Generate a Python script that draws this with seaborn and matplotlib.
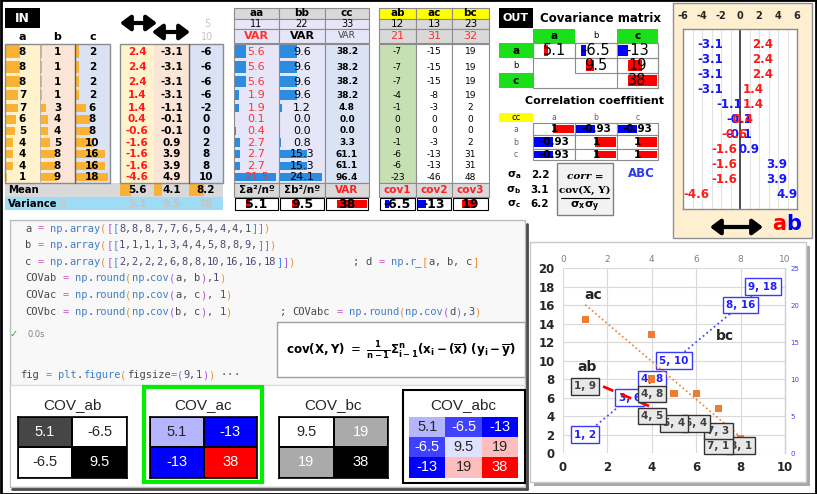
import re
import numpy as np
import pandas as pd
import matplotlib
matplotlib.use("Agg")
import matplotlib.pyplot as plt
from matplotlib.patches import Rectangle
import seaborn as sns

# input columns
a = np.array([8, 8, 8, 7, 7, 6, 5, 4, 4, 4, 1])
b = np.array([1, 1, 1, 1, 3, 4, 4, 5, 8, 8, 9])
c = np.array([2, 2, 2, 2, 6, 8, 8, 10, 16, 16, 18])
names = ["a", "b", "c"]
sq_names = ["aa", "bb", "cc"]
sq_codes = ["11", "22", "33"]
sq_foot = ["Σa²/nº", "Σb²/nº", "VAR"]
pair_names = ["ab", "ac", "bc"]
pair_codes = ["12", "13", "23"]
pair_codes_r = ["21", "31", "32"]
pair_foot = ["cov1", "cov2", "cov3"]
pairs = [(0, 1), (0, 2), (1, 2)]

# what the sheet computes from them
data = np.vstack([a, b, c])
mean = data.mean(axis=1)
dev = data - mean[:, None]
sq = dev ** 2
prod = np.array([dev[i] * dev[j] for i, j in pairs])
cov = np.round(np.cov(data), 1)
corr = np.corrcoef(data)
sd = np.sqrt(np.diag(np.cov(data)))

W, H = 817, 494
sns.set_theme(style="white", context="paper")
plt.rcParams["font.family"] = ["DejaVu Sans"]
plt.rcParams["axes.unicode_minus"] = False
fig = plt.figure(figsize=(W / 100, H / 100), dpi=100)
cv = fig.add_axes([0, 0, 1, 1])
cv.set_xlim(0, W)
cv.set_ylim(H, 0)
cv.axis("off")

EDGE = "#8c8c8c"
GREY = "#d9d9d9"
LAV = "#e6e6f8"
CREAM, PEACH, LBLUE = "#fff2cc", "#fbe5d6", "#dae3f3"
ORANGE = "#f9b233"
BARBLUE = "#2b8ce0"
GREEN = "#19e019"


def pax(x0, y0, x1, y1):
    return fig.add_axes([x0 / W, 1 - y1 / H, (x1 - x0) / W, (y1 - y0) / H])


def box(x0, y0, x1, y1, fc="none", ec="none", lw=0.8, z=1):
    cv.add_patch(Rectangle((x0, y0), x1 - x0, y1 - y0, facecolor=fc,
                           edgecolor=ec, lw=lw, zorder=z))


def txt(x, y, s, size=7.5, color="black", weight="bold", ha="center", **kw):
    cv.text(x, y, s, fontsize=size, color=color, fontweight=weight,
            ha=ha, va="center", zorder=6, **kw)


def num(v, f):
    s = format(v, f)
    return s.lstrip("-") if float(s) == 0 else s


def sbar(x0, y0, x1, y1, v, lo, hi):
    # excel style data bar with an axis
    w = x1 - x0 - 2
    ax0 = x0 + 1 + w * (-lo) / (hi - lo)
    L = w * abs(v) / (hi - lo)
    if v >= 0:
        box(ax0, y0 + 2, ax0 + L, y1 - 2, fc="red", z=2)
    else:
        box(ax0 - L, y0 + 2, ax0, y1 - 2, fc="blue", z=2)


def arrow(x0, x1, y):
    cv.annotate("", xy=(x1, y), xytext=(x0, y),
                arrowprops=dict(arrowstyle="<|-|>,head_length=0.6,head_width=0.45",
                                lw=3, color="black", shrinkA=0, shrinkB=0,
                                mutation_scale=10), zorder=6)


ry = [44, 60, 74.5, 89, 102, 113.5, 125, 136.7, 148.4, 160, 171.7, 183]
rc = [(ry[i] + ry[i + 1]) / 2 for i in range(11)]
fills = [CREAM, PEACH, LBLUE]

# ---------------- IN block
box(5, 8, 40, 28, fc="black")
txt(22.5, 18, "IN", color="white", size=9)
in_x = [5, 40, 75, 110]
dv_x = [120, 154, 189, 223]
for k in range(3):
    box(in_x[k], 44, in_x[k + 1], 183, fc=fills[k])
    box(dv_x[k], 44, dv_x[k + 1], 183, fc=fills[k])
    cx, dx = (in_x[k] + in_x[k + 1]) / 2, (dv_x[k] + dv_x[k + 1]) / 2
    txt(cx, 37, names[k], size=8)
    for i in range(11):
        box(in_x[k] + 0.5, ry[i] + 1.5, in_x[k] + 0.5 + data[k, i] / 18 * 33,
            ry[i + 1] - 1.5, fc=ORANGE, z=2)
        txt(cx, rc[i], str(data[k, i]))
        txt(dx, rc[i], num(dev[k, i], ".1f" if k < 2 else ".0f"),
            color="#ff1a1a" if k == 0 else "black")
    # mean row bar
    box(dv_x[k] + 0.5, 184, dv_x[k] + 0.5 + mean[k] / 8.2 * 15, 196, fc=ORANGE, z=2)
box(5, 44, 110, 183, ec=EDGE, lw=1, z=3)
box(120, 44, 223, 183, ec=EDGE, lw=1, z=3)
cv.plot([75, 75], [44, 183], color="#606060", lw=1, zorder=3)
cv.plot([189, 189], [44, 183], color="#606060", lw=1, zorder=3)
cv.plot([40, 40], [44, 183], color="#b0b0b0", lw=0.6, zorder=3)
box(5, 183, 223, 197, fc=GREY)
box(5, 197, 223, 210, fc="#9ddcf4")
txt(8, 190, "Mean", ha="left", size=7.3)
txt(8, 203.5, "Variance", ha="left", size=7.3)
txt(62, 203.5, "S", color="#c8c8c8", size=7.3)
for k in range(3):
    dx = (dv_x[k] + dv_x[k + 1]) / 2
    txt(dx, 190, f"{mean[k]:.1f}", size=7.5)
    txt(dx, 203.5, f"{cov[k, k]:.2g}", color="#c4c4c4", size=7.5)
arrow(120, 157, 23)
arrow(152, 190, 32)
txt(207, 24, "5", color="#c4c4c4", weight="normal", size=7)
txt(207, 37, "10", color="#c4c4c4", weight="normal", size=7)

lo, hi = cov.min(), cov.max()

# ---------------- squares block
sq_x = [234, 279, 325, 369]
for k in range(3):
    x0, x1 = sq_x[k], sq_x[k + 1]
    cx = (x0 + x1) / 2
    box(x0, 8, x1, 19, fc=GREY, ec=EDGE)
    txt(cx, 13.5, sq_names[k], size=7.5)
    box(x0, 19, x1, 29, fc=LAV, ec=EDGE)
    txt(cx, 24, sq_codes[k], weight="normal", size=7)
    box(x0, 29, x1, 43, fc=LAV, ec=EDGE)
    txt(cx, 36, "VAR", color=["#ff3030", "black", "#404040"][k],
        size=[8, 8, 6.5][k], weight=["bold", "bold", "normal"][k])
    box(x0, 44, x1, 183, fc=[LAV, LAV, LBLUE][k], ec=EDGE)
    for i in range(11):
        if k < 2:
            box(x0 + 1, ry[i] + 1.5, x0 + 1 + sq[k, i] / sq[k].max() * (x1 - x0 - 4),
                ry[i + 1] - 1.5, fc=BARBLUE, z=2)
            txt(cx, rc[i], f"{sq[k, i]:.1f}", color="#ff3333" if k == 0 else "black",
                weight="normal", size=8)
        else:
            txt(cx, rc[i], f"{sq[k, i]:.1f}", size=6.5)
    box(x0, 183, x1, 197, fc=GREY, ec=EDGE)
    txt(cx, 190, sq_foot[k], color="#ff2020" if k == 2 else "black", size=7.5)
    box(x0 + 1, 198, x1 - 1, 210, fc="white", ec="black")
    sbar(x0 + 1, 198, x1 - 1, 210, cov[k, k], lo, hi)
    txt(cx, 204, f"{cov[k, k]:.2g}", size=9)

# ---------------- products block
pr_x = [379, 416, 452, 489]
for k, (i, j) in enumerate(pairs):
    x0, x1 = pr_x[k], pr_x[k + 1]
    cx = (x0 + x1) / 2
    box(x0, 8, x1, 19, fc="#ffff00", ec=EDGE)
    txt(cx, 13.5, pair_names[k], size=7.5)
    box(x0, 19, x1, 29, fc=GREY, ec=EDGE)
    txt(cx, 24, pair_codes[k], weight="normal", size=7.5)
    box(x0, 29, x1, 43, fc=GREY, ec=EDGE)
    txt(cx, 36, pair_codes_r[k], weight="normal", size=8, color="#ff3030")
    box(x0, 44, x1, 183, fc="#c6e0b4" if k == 0 else "white", ec=EDGE)
    for r in range(11):
        txt(cx, rc[r], num(prod[k, r], ".0f"), weight="normal", size=6.5)
    box(x0, 183, x1, 197, fc=GREY, ec=EDGE)
    txt(cx, 190, pair_foot[k], color="#ff2020", size=7.5)
    box(x0 + 1, 198, x1 - 1, 210, fc="white", ec="black")
    sbar(x0 + 1, 198, x1 - 1, 210, cov[i, j], lo, hi)
    txt(cx, 204, f"{cov[i, j]:.2g}", size=9)

# ---------------- OUT block
box(499, 8, 533, 28, fc="black")
txt(516, 18, "OUT", color="white", size=8)
txt(540, 18, "Covariance matrix", ha="left", size=8.5)
mx = [533, 575, 617, 658]
my = [43, 58, 73, 88]
for k in range(3):
    cx = (mx[k] + mx[k + 1]) / 2
    cy = (my[k] + my[k + 1]) / 2
    if k != 1:
        box(mx[k], 29, mx[k + 1], 43, fc=GREEN)
        box(499, my[k], 533, my[k + 1], fc=GREEN)
    txt(cx, 36, names[k], size=7.5 if k != 1 else 6, weight="bold" if k != 1 else "normal")
    txt(516, cy, names[k], size=7.5 if k != 1 else 6, weight="bold" if k != 1 else "normal")
box(533, 43, 658, 88, fc="white", ec=EDGE)
for i in range(3):
    for j in range(i, 3):
        box(mx[j], my[i], mx[j + 1], my[i + 1], ec=EDGE)
        sbar(mx[j], my[i], mx[j + 1], my[i + 1], cov[i, j], lo, hi)
        txt((mx[j] + mx[j + 1]) / 2, (my[i] + my[i + 1]) / 2, f"{cov[i, j]:.2g}",
            weight="normal", size=10.5)

txt(595, 101, "Correlation coeffitient", size=8)
box(499, 113, 533, 122, fc="#ffff00")
txt(516, 117.5, "cc", weight="normal", size=6)
cyy = [123, 135, 149, 160]
for k in range(3):
    txt((mx[k] + mx[k + 1]) / 2, 117.5, names[k], weight="normal", size=5.5, color="#606060")
    txt(516, (cyy[k] + cyy[k + 1]) / 2, names[k], weight="normal", size=5.5, color="#606060")
for i in range(3):
    for j in range(3):
        box(mx[j], cyy[i], mx[j + 1], cyy[i + 1], fc="white", ec=EDGE)
        sbar(mx[j], cyy[i], mx[j + 1], cyy[i + 1], corr[i, j], corr.min(), corr.max())
        txt((mx[j] + mx[j + 1]) / 2, (cyy[i] + cyy[i + 1]) / 2, f"{corr[i, j]:.2g}", size=7.5)

for k, yy in enumerate([175, 190, 204]):
    txt(514, yy, rf"$\mathbf{{\sigma_{names[k]}}}$", size=7.5)
    txt(540, yy, f"{sd[k]:.1f}", size=7.5)
box(557, 163, 613, 215, fc="#f2f2f2", ec="#808080", lw=1)
txt(585, 176, "corr =", family="DejaVu Serif", style="italic", size=7.5)
txt(585, 190, "cov(X, Y)", family="DejaVu Serif", size=7.5)
cv.plot([561, 609], [198, 198], color="black", lw=0.8, zorder=6)
txt(585, 207, r"$\mathbf{\sigma_x\sigma_y}$", size=8)
txt(641, 173, "ABC", color="#2b3be8", size=8.5)

# ---------------- deviation panel (right)
box(673, 3, 812, 238, fc="#fdefcf", ec="#909090", lw=1)
axd = pax(683, 29, 797, 209)
axd.set_xlim(-6, 6)
axd.set_ylim(11, -1)
axd.set_xticks(range(-6, 7, 2))
axd.set_xticks(range(-6, 7), minor=True)
axd.xaxis.tick_top()
axd.tick_params(axis="x", which="both", length=0, pad=6, labelsize=7)
for t in axd.get_xticklabels():
    t.set_fontweight("bold")
axd.set_yticks([])
axd.grid(axis="x", which="both", color="#e3e3e3", lw=0.8)
axd.axvline(0, color="#404040", lw=1.3)
for sp in axd.spines.values():
    sp.set_color("#8c8c8c")
for i in range(11):
    axd.text(dev[1, i], i, f"{dev[1, i]:.1f}", color="#1515ff", ha="center",
             va="center", fontsize=8.5, fontweight="bold")
    axd.text(dev[0, i], i, f"{dev[0, i]:.1f}", color="#ff1a1a", ha="center",
             va="center", fontsize=8.5, fontweight="bold")
arrow(710, 763, 227)
txt(786, 224, "a", color="red", size=15, ha="right")
txt(786.5, 224, "b", color="blue", size=15, ha="left")

# ---------------- code panel
box(10, 220, 525, 487, fc="#f8f8f8", ec="#bdbdbd", lw=1)
box(11, 386, 524, 486, fc="white")
cv.plot([10, 525], [385, 385], color="#dcdcdc", lw=1, zorder=2)
cv.plot([527, 527], [224, 489], color="#4a4a4a", lw=2, zorder=2)
cv.plot([12, 527], [489, 489], color="#4a4a4a", lw=2, zorder=2)

BRACKETS = ["#e8912d", "#a35bd6", "#3b8eea"]
FUNCS = ("np", "plt", "array", "round", "cov", "r_", "figure")
CW = 6.27


def code(x, y, s):
    depth, col = 0, 0
    for t in re.findall(r"[A-Za-z_]\w*|\d+|\s+|.", s):
        if t.isspace():
            col += len(t)
            continue
        if t in "([":
            color = BRACKETS[depth % 3]
            depth += 1
        elif t in ")]":
            depth -= 1
            color = BRACKETS[depth % 3]
        elif t == "=":
            color = "#c858c8"
        elif t in FUNCS:
            color = "#3f7fc8"
        elif t[0].isdigit():
            color = "#4a4a70"
        else:
            color = "#4a4a4a"
        cv.text(x + col * CW, y, t, family="DejaVu Sans Mono", fontsize=7.5,
                color=color, ha="left", va="center", zorder=6)
        col += len(t)


code(25, 228.5, "a = np.array([[" + ",".join(map(str, a)) + "]])")
code(25, 245, "b = np.array([[" + ",".join(map(str, b)) + ",]])")
code(25, 262, "c = np.array([[" + ",".join(map(str, c)) + "]])")
code(353, 262, "; d = np.r_[a, b, c]")
code(25, 278, "COVab = np.round(np.cov(a, b),1)")
code(25, 295, "COVac = np.round(np.cov(a, c), 1)")
code(25, 312, "COVbc = np.round(np.cov(b, c), 1)")
code(280, 312, "; COVabc = np.round(np.cov(d),3)")
txt(14, 334, "✓", color="#3c9e3c", weight="normal", size=7)
txt(28, 334, "0.0s", color="#808080", weight="normal", size=6, ha="left")
code(20, 375, "fig = plt.figure(figsize=(9,1)) ···")

box(277, 322, 525, 377, fc="white", ec="#a0a0a0", lw=1, z=3)
txt(401, 350,
    r"$\mathbf{cov(X,Y)}\ =\ \mathbf{\frac{1}{n-1}\Sigma_{i-1}^{n}(x_i-(\overline{x})\ (y_i-\overline{y})}$",
    size=8.6)

# ---------------- heatmaps
hm = [
    ("COV_ab", cov[np.ix_([0, 1], [0, 1])], "binary", (17.5, 127), 1.2),
    ("COV_ac", cov[np.ix_([0, 2], [0, 2])], "bwr", (150, 257), 1.2),
    ("COV_bc", cov[np.ix_([1, 2], [1, 2])], "binary", (279, 388), 1.2),
    ("COV_abc", cov, "bwr", (409, 518), 0),
]
box(144, 387, 262, 482, fc="white", ec="#00ee00", lw=3, z=3)
box(403, 390, 525, 483, fc="white", ec="black", lw=1.5, z=3)
for title, mat, cmap, (x0, x1), lw in hm:
    ax = pax(x0, 417, x1, 477.5)
    sns.heatmap(pd.DataFrame(mat), ax=ax, cmap=cmap, annot=True, fmt=".2g", cbar=False,
                linewidths=lw, linecolor="black", xticklabels=False, yticklabels=False,
                annot_kws=dict(fontsize=10.5, family="Liberation Sans"))
    if lw:
        for sp in ax.spines.values():
            sp.set_visible(True)
            sp.set_color("black")
            sp.set_linewidth(1.2)
    cv.text((x0 + x1) / 2, 405, title, fontsize=11, family="Liberation Sans",
            ha="center", va="center", color="#262626", zorder=6)

# ---------------- scatter panel
box(534, 246, 810, 486, fc="#a8a8a8")
box(530, 242, 806, 482, fc="white", ec="#c8c8c8", lw=1)
ax1 = pax(563, 268, 785, 453)
ax2 = ax1.twinx()

sns.regplot(x=b, y=c, ax=ax1, scatter=False, ci=None, color="#4a4aff",
            line_kws=dict(ls=":", lw=1.3))
bc = pd.DataFrame({"b": b, "c": c}).drop_duplicates()
for x, y in zip(bc["b"], bc["c"]):
    ax1.text(x, y, f"{x}, {y}", ha="center", va="center", fontsize=7.5, fontweight="bold",
             color="#2020ff", zorder=5,
             bbox=dict(boxstyle="square,pad=0.3", fc="white", ec="#3a3aff", lw=1))

sns.regplot(x=a, y=c, ax=ax2, scatter=False, ci=None, color="#ed7d31",
            line_kws=dict(ls=":", lw=1.2))
sns.scatterplot(x=a, y=c, ax=ax2, marker="s", color="#ed7d31", s=28, edgecolor="none", zorder=4)
sns.regplot(x=a, y=b, ax=ax2, scatter=False, ci=None, color="red",
            line_kws=dict(ls=(0, (4, 3)), lw=2))
ab = pd.DataFrame({"a": a, "b": b}).drop_duplicates()
for x, y in zip(ab["a"], ab["b"]):
    ax2.text(x, y, f"{x}, {y}", ha="center", va="center", fontsize=7.5, fontweight="bold",
             color="#404040", zorder=5,
             bbox=dict(boxstyle="square,pad=0.3", fc="#e8e8e8", ec="#333333", lw=1))

ax1.set_xlim(0, 10)
ax1.set_ylim(0, 20)
ax2.set_ylim(0, 25)
ax1.set_xticks(range(0, 11, 2))
ax1.set_yticks(range(0, 21, 2))
ax2.set_yticks(range(0, 26, 5))
ax1.grid(True, color="#d9d9d9", lw=0.8)
ax1.tick_params(length=0, labelsize=8.5, pad=6)
for t in ax1.get_xticklabels() + ax1.get_yticklabels():
    t.set_fontweight("bold")
ax2.tick_params(length=0, labelsize=5, labelcolor="#3f3fff", pad=4)
top = ax1.secondary_xaxis("top")
top.set_xticks(range(0, 11, 2))
top.tick_params(length=0, labelsize=6.5, labelcolor="#7f7f7f", pad=3)
for axx in (ax1, ax2):
    axx.set_xlabel("")
    axx.set_ylabel("")
    for sp in axx.spines.values():
        sp.set_visible(False)
top.spines["top"].set_visible(False)
ax2.spines["right"].set_visible(True)
ax2.spines["right"].set_color("#d0d0d0")
ax1.text(1.35, 17.1, "ac", fontsize=10, fontweight="bold", ha="center", va="center")
ax1.text(1.1, 9.3, "ab", fontsize=10, fontweight="bold", ha="center", va="center")
ax1.text(7.3, 12.6, "bc", fontsize=10, fontweight="bold", ha="center", va="center")

box(0.5, 0.5, 816.5, 493.5, ec="black", lw=2, z=10)

fig.savefig("out.png", dpi=100)
